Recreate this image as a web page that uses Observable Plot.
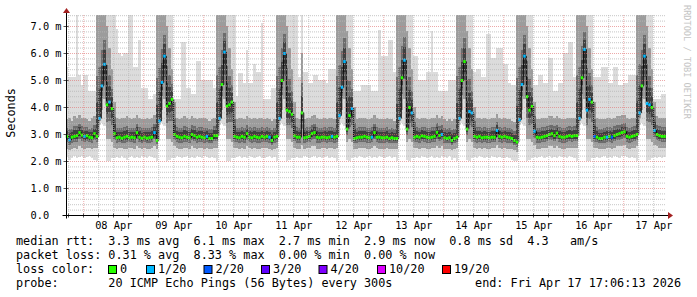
<!DOCTYPE html>
<html><head><meta charset="utf-8">
<script src="https://cdn.jsdelivr.net/npm/d3@7"></script>
<script src="https://cdn.jsdelivr.net/npm/@observablehq/plot@0.6"></script>
<style>
body{margin:0;background:#fff}
#chart{width:697px;height:297px;overflow:hidden}
svg text{white-space:pre}
</style>
</head><body><div id="chart"></div>
<script>
// hours relative to 08 Apr 00:00; first column = 07 Apr 17:00
const firstHour = -7;
const dayLabels = ["08 Apr","09 Apr","10 Apr","11 Apr","12 Apr","13 Apr","14 Apr","15 Apr","16 Apr","17 Apr"];
const yTickValues = [0,1,2,3,4,5,6,7];
const yTickLabels = ["0.0","1.0 m","2.0 m","3.0 m","4.0 m","5.0 m","6.0 m","7.0 m"];

// median rtt (ms), one value per hour
const median = [
 2.93,2.80,2.90,2.93,2.96,3.07,2.98,
 2.93,2.96,2.90,2.88,3.03,2.93,3.60,4.80,5.60,4.10,4.20,3.96,3.03,2.88,2.90,2.86,2.90,2.93,2.88,2.90,2.88,3.07,2.90,2.86,
 2.90,2.86,2.88,2.90,3.07,2.78,3.50,4.93,5.90,4.05,4.15,4.30,3.00,2.93,2.90,2.88,2.93,2.90,2.88,3.00,2.96,2.90,2.93,2.90,
 2.88,2.93,2.85,2.85,2.96,2.96,3.60,4.85,6.05,4.05,4.10,4.20,2.93,2.90,2.88,2.93,2.90,3.03,2.90,2.88,2.93,2.90,2.88,2.93,
 2.90,2.93,2.90,2.78,2.90,2.93,3.60,5.00,6.00,3.90,3.85,3.75,2.95,2.90,2.90,3.80,2.88,2.90,2.93,3.03,3.07,2.90,2.88,2.90,
 2.90,2.88,2.90,2.93,2.90,2.93,3.70,4.75,5.70,3.20,3.70,3.96,2.85,2.88,2.90,2.90,2.93,2.90,2.88,2.90,3.07,2.90,2.90,2.88,
 2.88,2.90,2.85,2.88,2.85,2.85,3.60,5.10,5.75,3.20,4.00,3.80,2.90,2.93,2.90,2.95,2.93,2.90,2.88,2.90,2.93,3.08,2.96,3.00,
 2.88,2.85,2.88,2.78,2.85,2.90,3.60,5.00,5.70,3.20,3.85,3.80,2.93,2.90,2.93,2.88,2.90,2.90,2.88,2.90,2.90,3.15,2.93,2.90,
 2.93,2.90,2.88,2.85,2.78,2.72,3.55,4.85,5.90,4.40,3.90,4.04,3.12,2.90,2.88,2.90,2.93,2.96,3.00,3.03,2.96,3.05,2.93,2.90,
 2.90,2.93,2.96,2.93,2.96,2.96,3.60,5.10,6.15,3.90,4.30,4.20,2.93,2.90,2.85,2.85,2.90,2.90,2.93,2.90,2.96,3.00,3.03,3.07,
 3.10,2.93,2.90,2.93,2.96,3.00,3.80,4.80,5.90,4.15,4.10,4.00,3.15,3.00,2.96,2.93,2.93
];
// lost pings out of 20, per hour
const lossCount = [
 0,1,0,0,0,0,0,
 1,0,0,0,0,0,1,1,1,0,1,0,0,0,0,0,0,0,0,0,0,0,0,0,
 0,0,0,0,1,0,1,1,1,0,0,0,0,0,0,0,0,0,0,0,0,0,0,0,
 0,1,0,0,0,0,1,0,1,0,0,0,0,0,0,0,0,0,0,0,0,0,0,0,
 0,0,1,0,0,0,1,0,1,0,0,0,0,0,0,0,0,0,0,0,0,0,0,0,
 0,0,0,1,0,0,1,1,1,0,0,1,0,0,0,0,0,0,0,1,0,0,0,0,
 0,0,0,0,0,0,1,0,1,0,0,1,0,0,0,0,0,0,0,0,0,0,0,1,
 0,0,0,0,0,0,1,0,0,0,1,1,0,0,0,0,0,0,0,0,0,1,0,0,
 0,0,0,0,0,0,1,1,1,0,0,0,1,0,0,0,0,0,0,0,0,0,0,0,
 0,0,0,0,0,0,1,0,1,1,1,0,2,0,0,0,0,1,0,2,0,0,0,0,
 0,0,0,0,0,0,1,0,1,1,1,0,1,0,0,0,0
];
// fastest ping (ms)
const minRtt = [
 2.15,2.05,2.10,2.20,2.10,2.15,2.20,
 2.10,2.15,2.20,2.10,2.05,2.00,3.35,3.40,3.30,2.00,2.00,2.10,2.10,2.15,2.10,2.20,2.10,2.05,2.15,2.20,2.10,2.15,2.10,2.20,
 2.15,2.10,2.20,2.15,2.10,2.00,3.35,3.40,3.30,2.00,2.05,2.10,2.10,2.20,2.15,2.10,2.15,2.20,2.10,2.15,2.10,2.20,2.15,2.10,
 2.20,2.15,2.10,2.15,2.10,2.00,3.35,3.40,3.30,2.00,2.00,2.10,2.10,2.15,2.20,2.10,2.15,2.10,2.20,2.15,2.10,2.15,2.20,2.10,
 2.10,2.15,2.20,2.10,2.15,2.00,3.35,3.40,3.30,2.00,2.05,2.10,2.10,2.15,2.10,2.10,2.20,2.15,2.10,2.15,2.20,2.10,2.15,2.10,
 2.15,2.20,2.10,2.15,2.10,2.00,3.35,3.40,3.30,2.05,2.00,2.10,2.15,2.10,2.20,2.15,2.10,2.15,2.20,2.10,2.15,2.10,2.20,2.15,
 2.10,2.15,2.20,2.10,2.15,2.00,3.35,3.40,3.30,2.05,2.00,2.10,2.10,2.15,2.10,2.20,2.15,2.10,2.15,2.20,2.10,2.15,2.10,2.20,
 2.15,2.10,2.20,2.05,2.10,2.00,3.35,3.40,3.30,2.05,2.00,2.10,2.15,2.10,2.20,2.15,2.10,2.15,2.10,2.20,2.15,2.10,2.15,2.10,
 2.10,2.15,2.10,2.05,2.00,2.00,3.35,3.40,3.30,2.00,2.05,2.10,2.15,2.10,2.15,2.20,2.10,2.15,2.20,2.10,2.15,2.10,2.20,2.15,
 2.15,2.10,2.20,2.15,2.10,2.00,3.35,3.40,3.30,2.00,2.00,2.10,2.10,2.15,2.10,2.15,2.20,2.10,2.15,2.10,2.20,2.15,2.10,2.20,
 2.20,2.15,2.10,2.15,2.10,2.00,3.35,3.40,3.30,2.00,2.05,2.10,2.15,2.10,2.15,2.10,2.15
];
// lower edge of the dense smoke (ms)
const lowQ = [
 2.45,2.40,2.45,2.50,2.45,2.55,2.50,
 2.45,2.50,2.50,2.45,2.50,2.50,3.50,3.90,4.30,2.80,2.80,2.70,2.50,2.45,2.50,2.50,2.45,2.45,2.50,2.50,2.45,2.55,2.50,2.45,
 2.50,2.45,2.45,2.50,2.55,2.45,3.45,3.90,4.30,2.80,2.80,2.70,2.55,2.50,2.45,2.45,2.50,2.50,2.45,2.55,2.50,2.45,2.50,2.50,
 2.45,2.50,2.45,2.45,2.50,2.50,3.50,3.90,4.30,2.80,2.80,2.70,2.50,2.50,2.45,2.50,2.45,2.55,2.50,2.45,2.50,2.45,2.45,2.50,
 2.50,2.50,2.45,2.40,2.45,2.50,3.50,3.90,4.30,2.80,2.80,2.70,2.50,2.45,2.45,2.60,2.45,2.50,2.50,2.55,2.55,2.45,2.45,2.50,
 2.50,2.45,2.50,2.50,2.45,2.50,3.55,3.90,4.30,2.70,2.80,2.70,2.45,2.45,2.50,2.50,2.50,2.45,2.45,2.50,2.55,2.50,2.45,2.45,
 2.45,2.50,2.45,2.45,2.45,2.45,3.50,3.90,4.30,2.70,2.80,2.70,2.50,2.50,2.45,2.50,2.50,2.45,2.45,2.50,2.50,2.55,2.50,2.55,
 2.45,2.45,2.45,2.40,2.45,2.50,3.50,3.90,4.30,2.70,2.80,2.70,2.50,2.45,2.50,2.45,2.50,2.45,2.45,2.50,2.50,2.60,2.50,2.45,
 2.50,2.45,2.45,2.45,2.40,2.35,3.45,3.90,4.30,2.80,2.80,2.70,2.60,2.45,2.45,2.50,2.50,2.50,2.55,2.55,2.50,2.55,2.50,2.45,
 2.45,2.50,2.50,2.50,2.50,2.50,3.50,3.90,4.30,2.80,2.80,2.70,2.50,2.50,2.45,2.45,2.45,2.50,2.50,2.45,2.50,2.55,2.55,2.55,
 2.60,2.50,2.45,2.50,2.50,2.55,3.60,3.90,4.30,2.80,2.80,2.70,2.60,2.55,2.50,2.50,2.50
];
// upper edge of the dense smoke (ms)
const highQ = [
 3.55,3.60,3.50,3.65,3.60,3.70,3.60,
 3.60,3.55,3.50,3.60,3.65,7.40,7.40,7.40,7.40,7.00,6.20,5.40,4.20,3.60,3.55,3.60,3.60,3.65,3.60,3.55,3.60,3.70,3.60,3.55,
 3.55,3.60,3.55,3.60,3.70,7.40,7.40,7.40,7.40,7.00,6.20,5.40,4.20,3.60,3.55,3.60,3.65,3.60,3.55,3.65,3.60,3.55,3.60,3.60,
 3.60,3.55,3.50,3.55,3.60,7.40,7.40,7.40,7.40,7.00,6.20,5.40,4.20,3.55,3.60,3.60,3.55,3.65,3.60,3.55,3.60,3.55,3.60,3.60,
 3.55,3.60,3.55,3.50,3.55,7.40,7.40,7.40,7.40,7.00,6.20,5.40,4.20,3.60,3.55,6.00,3.55,3.60,3.60,3.65,3.70,3.60,3.55,3.55,
 3.60,3.55,3.60,3.60,3.55,7.40,7.40,7.40,7.40,6.80,6.20,5.40,4.00,3.55,3.60,3.60,3.60,3.55,3.55,3.60,3.70,3.60,3.55,3.55,
 3.55,3.60,3.55,3.55,3.50,7.40,7.40,7.40,7.40,6.80,6.20,5.40,4.00,3.60,3.55,3.60,3.60,3.55,3.55,3.60,3.60,3.70,3.60,3.65,
 3.55,3.50,3.55,3.50,3.55,7.40,7.40,7.40,7.40,6.80,6.20,5.40,4.00,3.60,3.60,3.55,3.60,3.55,3.55,3.60,3.60,3.75,3.60,3.55,
 3.60,3.55,3.55,3.50,3.45,7.40,7.40,7.40,7.40,7.00,6.20,5.40,4.20,3.55,3.55,3.60,3.60,3.60,3.65,3.65,3.60,3.65,3.60,3.55,
 3.55,3.60,3.60,3.60,3.60,7.40,7.40,7.40,7.40,7.00,6.20,5.40,4.20,3.60,3.55,3.55,3.55,3.60,3.60,3.55,3.60,3.65,3.65,3.70,
 3.70,3.60,3.55,3.60,3.60,7.40,7.40,7.40,7.40,7.00,6.20,5.40,4.20,3.65,3.60,3.60,3.60
];
// slowest ping (ms), clipped at the top of the graph
const maxRtt = [
 5.5,5.1,5.1,5.1,7.4,5.2,4.8,
 5.2,5.2,4.6,4.6,4.6,7.4,7.4,7.4,7.4,7.4,7.4,7.4,7.4,6.9,6.0,5.9,6.0,6.0,7.4,7.4,5.5,5.5,6.5,4.7,
 4.7,4.7,4.3,4.3,4.5,7.4,7.4,7.4,7.4,7.4,7.4,7.4,4.3,4.3,4.3,6.4,6.4,4.7,4.7,4.5,4.5,5.7,5.7,5.0,
 5.0,5.0,5.0,5.0,4.7,7.4,7.4,7.4,7.4,7.4,7.4,7.4,7.4,4.4,5.25,5.25,4.9,6.1,4.9,4.9,5.6,5.3,5.3,7.1,
 4.3,4.3,4.3,4.7,4.7,7.4,7.4,7.4,7.4,7.4,7.4,7.4,7.4,7.4,5.1,7.4,5.3,5.3,4.9,4.9,5.2,5.2,5.0,5.0,
 5.0,4.9,5.4,5.4,5.4,7.4,7.4,7.4,7.4,7.4,7.4,7.4,4.6,4.6,4.6,4.8,4.8,4.8,4.8,4.6,4.6,4.6,6.85,5.9,
 5.9,5.9,6.5,6.5,5.3,7.4,7.4,7.4,7.4,7.4,7.4,7.4,5.9,5.9,5.0,5.0,5.0,5.3,5.3,6.8,5.3,5.3,4.6,4.6,
 4.6,4.6,5.0,5.0,5.0,7.4,7.4,7.4,7.4,7.4,7.4,7.4,5.3,5.4,5.4,5.1,5.1,6.7,6.7,5.8,5.8,6.2,6.2,6.2,
 5.6,5.6,4.9,4.8,4.8,7.4,7.4,7.4,7.4,7.4,7.4,7.4,4.8,4.8,5.2,5.2,4.9,4.9,5.8,5.8,4.6,4.6,4.9,4.9,
 6.0,6.0,6.4,6.4,5.1,7.4,7.4,7.4,7.4,7.4,7.4,7.4,5.1,5.1,5.1,5.5,5.5,5.5,4.9,4.9,5.5,5.5,4.8,4.8,
 4.9,4.9,5.2,5.2,5.2,7.4,7.4,7.4,7.4,7.4,7.4,7.4,4.3,4.3,4.3,4.5,4.5
];

const lossColors = ["#26ff00","#00b8ff","#0059ff","#5e00ff","#7e00ff","#dd00ff","#ff0000"];
const lossLabels = ["0","1/20","2/20","3/20","4/20","10/20","19/20"];
const statLines = [
  "median rtt:  3.3 ms avg  6.1 ms max  2.7 ms min  2.9 ms now  0.8 ms sd  4.3   am/s",
  "packet loss: 0.31 % avg  8.33 % max  0.00 % min  0.00 % now"
];
const probeText = "probe:       20 ICMP Echo Pings (56 Bytes) every 300s";
const endText = "end: Fri Apr 17 17:06:13 2026";
const unitLabel = "Seconds";
const watermark = "RRDTOOL / TOBI OETIKER";

const rows = median.map((m, i) => ({
  h: firstHour + i, med: m, loss: lossCount[i],
  lo: minRtt[i], q1: lowQ[i], q3: highQ[i], hi: maxRtt[i]
}));

const dayTicks = dayLabels.map((_, k) => 24 * k);
const dayMid = dayLabels.map((_, k) => 24 * k + 12);
const sixHourTicks = d3.range(-6, 234, 6).filter(v => v % 24 !== 0);
const yMinor = d3.range(0, 7.41, 0.2).map(v => +v.toFixed(1)).filter(v => Math.abs(v - Math.round(v)) > 0.01);

const mono = "'DejaVu Sans Mono', monospace";
const crisp = {shapeRendering: "crispEdges"};
const colX = {x1: "h", x2: d => d.h + 1};

const plot = Plot.plot({
  width: 697, height: 297,
  marginLeft: 66, marginRight: 31, marginTop: 15, marginBottom: 82,
  x: {domain: [-6.9, 233.1], axis: null},
  y: {domain: [0, 200 / 27], axis: null},
  style: {background: "#fff", fontFamily: mono, overflow: "visible"},
  marks: [
    Plot.rect(rows, {...colX, y1: "lo", y2: "hi", fill: "#dcdcdc", ...crisp, clip: true}),
    Plot.rect(rows, {...colX, y1: "q1", y2: "q3", fill: "#9c9c9c", ...crisp, clip: true}),
    Plot.rect(rows, {...colX, y1: d => (d.q1 + d.med) / 2, y2: d => (d.med + d.q3) / 2, fill: "#6c6c6c", ...crisp, clip: true}),
    Plot.rect(rows, {...colX, y1: d => d.med - (d.med - d.q1) * 0.28, y2: d => d.med + (d.q3 - d.med) * 0.28, fill: "#404040", ...crisp, clip: true}),
    Plot.line(rows, {x: d => d.h + 0.5, y: "med", curve: "step", stroke: "#000", strokeWidth: 1}),
    Plot.ruleY(rows, {y: "med", ...colX, stroke: d => lossColors[d.loss], strokeWidth: 3}),
    Plot.ruleY(yMinor, {stroke: "#b8b8b8", strokeDasharray: "1,1", strokeOpacity: 0.8}),
    Plot.ruleX(sixHourTicks, {stroke: "#b8b8b8", strokeDasharray: "1,1", strokeOpacity: 0.8}),
    Plot.ruleY(yTickValues.slice(1), {stroke: "#e07070", strokeDasharray: "1,1", strokeOpacity: 0.6}),
    Plot.ruleX(dayTicks, {stroke: "#e07070", strokeDasharray: "1,1", strokeOpacity: 0.6}),
    Plot.text(yTickValues, {y: d => d, text: (d, i) => yTickLabels[i], frameAnchor: "left", dx: -36, textAnchor: "start", fontSize: 10.3, fill: "#000"}),
    Plot.text(dayMid, {x: d => d, text: (d, i) => dayLabels[i], frameAnchor: "bottom", dy: 13, fontSize: 10.3, fill: "#000"})
  ]
});
document.getElementById("chart").append(plot);

const svg = d3.select(plot);
const X = plot.scale("x"), Y = plot.scale("y");
const y0 = Math.round(Y.apply(0)) + 0.5;
const xAxis = Math.round(X.apply(-6.9)) + 0.5;
const xEnd = X.apply(233.1);
const yTop = Y.apply(200 / 27);
const g = svg.append("g").attr("text-anchor", "start");
// tick marks
sixHourTicks.concat(dayTicks).forEach(v => {
  const xx = Math.round(X.apply(v)) + 0.5;
  g.append("line").attr("x1", xx).attr("x2", xx).attr("y1", y0 - 2).attr("y2", y0 + 2).attr("stroke", "#555");
});
yTickValues.forEach(v => {
  const yy = Math.round(Y.apply(v)) + 0.5;
  g.append("line").attr("x1", xAxis - 3).attr("x2", xAxis + 2).attr("y1", yy).attr("y2", yy).attr("stroke", "#555");
});
g.append("line").attr("x1", xAxis - 4).attr("x2", xEnd + 3).attr("y1", y0).attr("y2", y0).attr("stroke", "#000");
g.append("line").attr("x1", xAxis).attr("x2", xAxis).attr("y1", y0 + 3).attr("y2", yTop - 2).attr("stroke", "#000");
g.append("path").attr("d", `M${xEnd + 2},${y0 - 3.5}L${xEnd + 7},${y0}L${xEnd + 2},${y0 + 3.5}Z`).attr("fill", "#a32020");
g.append("path").attr("d", `M${xAxis - 3.5},${yTop - 2}L${xAxis},${yTop - 7}L${xAxis + 3.5},${yTop - 2}Z`).attr("fill", "#a32020");

// unit label and watermark
g.append("text").attr("transform", "translate(15,113) rotate(-90)").attr("text-anchor", "middle")
  .attr("font-family", mono).attr("font-size", 11.8).attr("fill", "#000").text(unitLabel);
g.append("text").attr("transform", "translate(684,5) rotate(90)").attr("text-anchor", "start")
  .attr("font-family", mono).attr("font-size", 8.6).attr("fill", "#c4c4c4").text(watermark);

// legend
const lg = svg.append("g").attr("font-family", mono).attr("font-size", 11.8).attr("fill", "#000").attr("text-anchor", "start");
statLines.forEach((s, i) => lg.append("text").attr("x", 16).attr("y", 244.5 + 14 * i).attr("xml:space", "preserve").text(s));
lg.append("text").attr("x", 16).attr("y", 272.5).text("loss color:");
const boxX = [108, 146, 203.5, 261, 318.5, 377, 442];
lossLabels.forEach((l, i) => {
  lg.append("rect").attr("x", boxX[i] + 0.5).attr("y", 265.5).attr("width", 8).attr("height", 8)
    .attr("fill", lossColors[i]).attr("stroke", "#000");
  lg.append("text").attr("x", boxX[i] + 12).attr("y", 272.5).text(l);
});
lg.append("text").attr("x", 16).attr("y", 286.5).attr("xml:space", "preserve").text(probeText);
lg.append("text").attr("x", 681).attr("y", 286.5).attr("text-anchor", "end").text(endText);
</script>
</body></html>
